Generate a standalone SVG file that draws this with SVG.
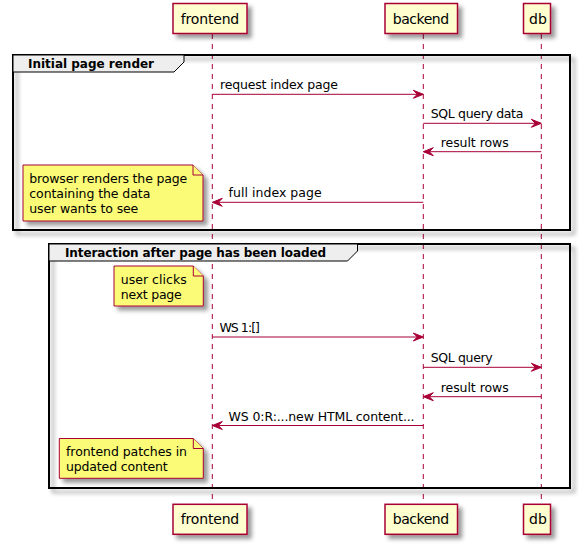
<svg xmlns="http://www.w3.org/2000/svg" width="579" height="544" viewBox="0 0 579 544">
<defs>
<filter id="sh" x="-1" y="-1" width="300%" height="300%">
<feGaussianBlur result="b1" stdDeviation="2"/>
<feColorMatrix in="b1" result="b2" type="matrix" values="0 0 0 0 0 0 0 0 0 0 0 0 0 0 0 0 0 0 .4 0"/>
<feOffset dx="4" dy="4" in="b2" result="b3"/>
<feBlend in="SourceGraphic" in2="b3" mode="normal"/>
</filter>
<style>
.part{fill:#FEFECE;stroke:#A80036;stroke-width:1.5;}
.ptxt{font-family:"DejaVu Sans",sans-serif;font-size:14px;fill:#000;text-anchor:middle;}
.life{stroke:#A80036;stroke-width:1;stroke-dasharray:5,5;fill:none;}
.frame{fill:none;stroke:#000;stroke-width:2;}
.tab{fill:#EEEEEE;stroke:#000;stroke-width:1;}
.gtxt{font-family:"DejaVu Sans",sans-serif;font-size:12px;font-weight:bold;fill:#000;}
.note{fill:#FBFB77;stroke:#A80036;stroke-width:1;}
.ntxt{font-family:"DejaVu Sans",sans-serif;font-size:12.5px;fill:#000;}
.msg{stroke:#A80036;stroke-width:1;fill:none;}
.head{fill:#A80036;stroke:#A80036;stroke-width:1;}
.mtxt{font-family:"DejaVu Sans",sans-serif;font-size:12.5px;fill:#000;}
</style>
</defs>
<rect width="579" height="544" fill="#FFFFFF"/>

<g id="lifelines">
<line class="life" x1="212.3" y1="34" x2="212.3" y2="504"/>
<line class="life" x1="423.3" y1="34" x2="423.3" y2="504"/>
<line class="life" x1="541.3" y1="34" x2="541.3" y2="504"/>
</g>

<g id="group-initial">
<rect class="frame" x="13" y="55" width="557" height="175" filter="url(#sh)"/>
<path class="tab" d="M13,55 L184,55 L184,62 L174,72 L13,72 Z"/>
<text class="gtxt" x="28" y="68" textLength="126">Initial page render</text>
</g>

<g id="group-interaction">
<rect class="frame" x="49" y="244" width="521" height="244" filter="url(#sh)"/>
<path class="tab" d="M49,244 L357.5,244 L357.5,251 L347.5,261 L49,261 Z"/>
<text class="gtxt" x="65" y="257" textLength="261">Interaction after page has been loaded</text>
</g>

<g id="frontend-top">
<rect class="part" x="173" y="3.5" width="74" height="30" filter="url(#sh)"/>
<text class="ptxt" x="210" y="23.5" textLength="58.5">frontend</text>
</g>
<g id="backend-top">
<rect class="part" x="385" y="3.5" width="72.5" height="30" filter="url(#sh)"/>
<text class="ptxt" x="421" y="23.5" textLength="56.3">backend</text>
</g>
<g id="db-top">
<rect class="part" x="523.5" y="3.5" width="27" height="30" filter="url(#sh)"/>
<text class="ptxt" x="538" y="23.5">db</text>
</g>

<g id="frontend-bottom">
<rect class="part" x="173" y="504.3" width="74" height="30" filter="url(#sh)"/>
<text class="ptxt" x="210" y="524.3" textLength="58.5">frontend</text>
</g>
<g id="backend-bottom">
<rect class="part" x="385" y="504.3" width="72.5" height="30" filter="url(#sh)"/>
<text class="ptxt" x="421" y="524.3" textLength="56.3">backend</text>
</g>
<g id="db-bottom">
<rect class="part" x="523.5" y="504.3" width="27" height="30" filter="url(#sh)"/>
<text class="ptxt" x="538" y="524.3">db</text>
</g>

<g id="note-browser">
<path class="note" d="M23,165 L193,165 L203,175 L203,221 L23,221 Z" filter="url(#sh)"/>
<path class="note" d="M193,165 L193,175 L203,175" fill="none"/>
<text class="ntxt" x="29.3" y="183.3" textLength="158">browser renders the page</text>
<text class="ntxt" x="29.3" y="198.3" textLength="121">containing the data</text>
<text class="ntxt" x="29.3" y="213.3" textLength="109">user wants to see</text>
</g>

<g id="note-user-clicks">
<path class="note" d="M114,266 L193.3,266 L203.3,276 L203.3,306 L114,306 Z" filter="url(#sh)"/>
<path class="note" d="M193.3,266 L193.3,276 L203.3,276" fill="none"/>
<text class="ntxt" x="120.7" y="284.3" textLength="66">user clicks</text>
<text class="ntxt" x="120.7" y="299" textLength="61">next page</text>
</g>

<g id="note-patches">
<path class="note" d="M59.3,438.5 L193.3,438.5 L203.3,448.5 L203.3,478.3 L59.3,478.3 Z" filter="url(#sh)"/>
<path class="note" d="M193.3,438.5 L193.3,448.5 L203.3,448.5" fill="none"/>
<text class="ntxt" x="66" y="455.7" textLength="121">frontend patches in</text>
<text class="ntxt" x="66" y="470.7" textLength="101.7">updated content</text>
</g>

<g id="connectors">
<line class="msg" x1="212.3" y1="94.3" x2="422.3" y2="94.3"/>
<polygon class="head" points="413.3,90.3 423.3,94.3 413.3,98.3 417.3,94.3"/>
<text class="mtxt" x="220" y="89.3" textLength="118">request index page</text>

<line class="msg" x1="423.3" y1="123.3" x2="540.3" y2="123.3"/>
<polygon class="head" points="531.3,119.3 541.3,123.3 531.3,127.3 535.3,123.3"/>
<text class="mtxt" x="430.7" y="118.3" textLength="92.6">SQL query data</text>

<line class="msg" x1="424.3" y1="151.7" x2="541.3" y2="151.7"/>
<polygon class="head" points="433.3,147.7 423.3,151.7 433.3,155.7 429.3,151.7"/>
<text class="mtxt" x="440.7" y="146.7" textLength="68">result rows</text>

<line class="msg" x1="213.3" y1="202.3" x2="423.3" y2="202.3"/>
<polygon class="head" points="222.3,198.3 212.3,202.3 222.3,206.3 218.3,202.3"/>
<text class="mtxt" x="228.6" y="197.3" textLength="93">full index page</text>

<line class="msg" x1="212.3" y1="337" x2="422.3" y2="337"/>
<polygon class="head" points="413.3,333 423.3,337 413.3,341 417.3,337"/>
<text class="mtxt" x="219.4" y="332" textLength="40.6">WS 1:[]</text>

<line class="msg" x1="423.3" y1="367.3" x2="540.3" y2="367.3"/>
<polygon class="head" points="531.3,363.3 541.3,367.3 531.3,371.3 535.3,367.3"/>
<text class="mtxt" x="430.7" y="362.3" textLength="62">SQL query</text>

<line class="msg" x1="424.3" y1="396.7" x2="541.3" y2="396.7"/>
<polygon class="head" points="433.3,392.7 423.3,396.7 433.3,400.7 429.3,396.7"/>
<text class="mtxt" x="440.7" y="391.7" textLength="68">result rows</text>

<line class="msg" x1="213.3" y1="425.5" x2="423.3" y2="425.5"/>
<polygon class="head" points="222.3,421.5 212.3,425.5 222.3,429.5 218.3,425.5"/>
<text class="mtxt" x="228.6" y="420.5" textLength="186">WS 0:R:...new HTML content...</text>
</g>
</svg>
